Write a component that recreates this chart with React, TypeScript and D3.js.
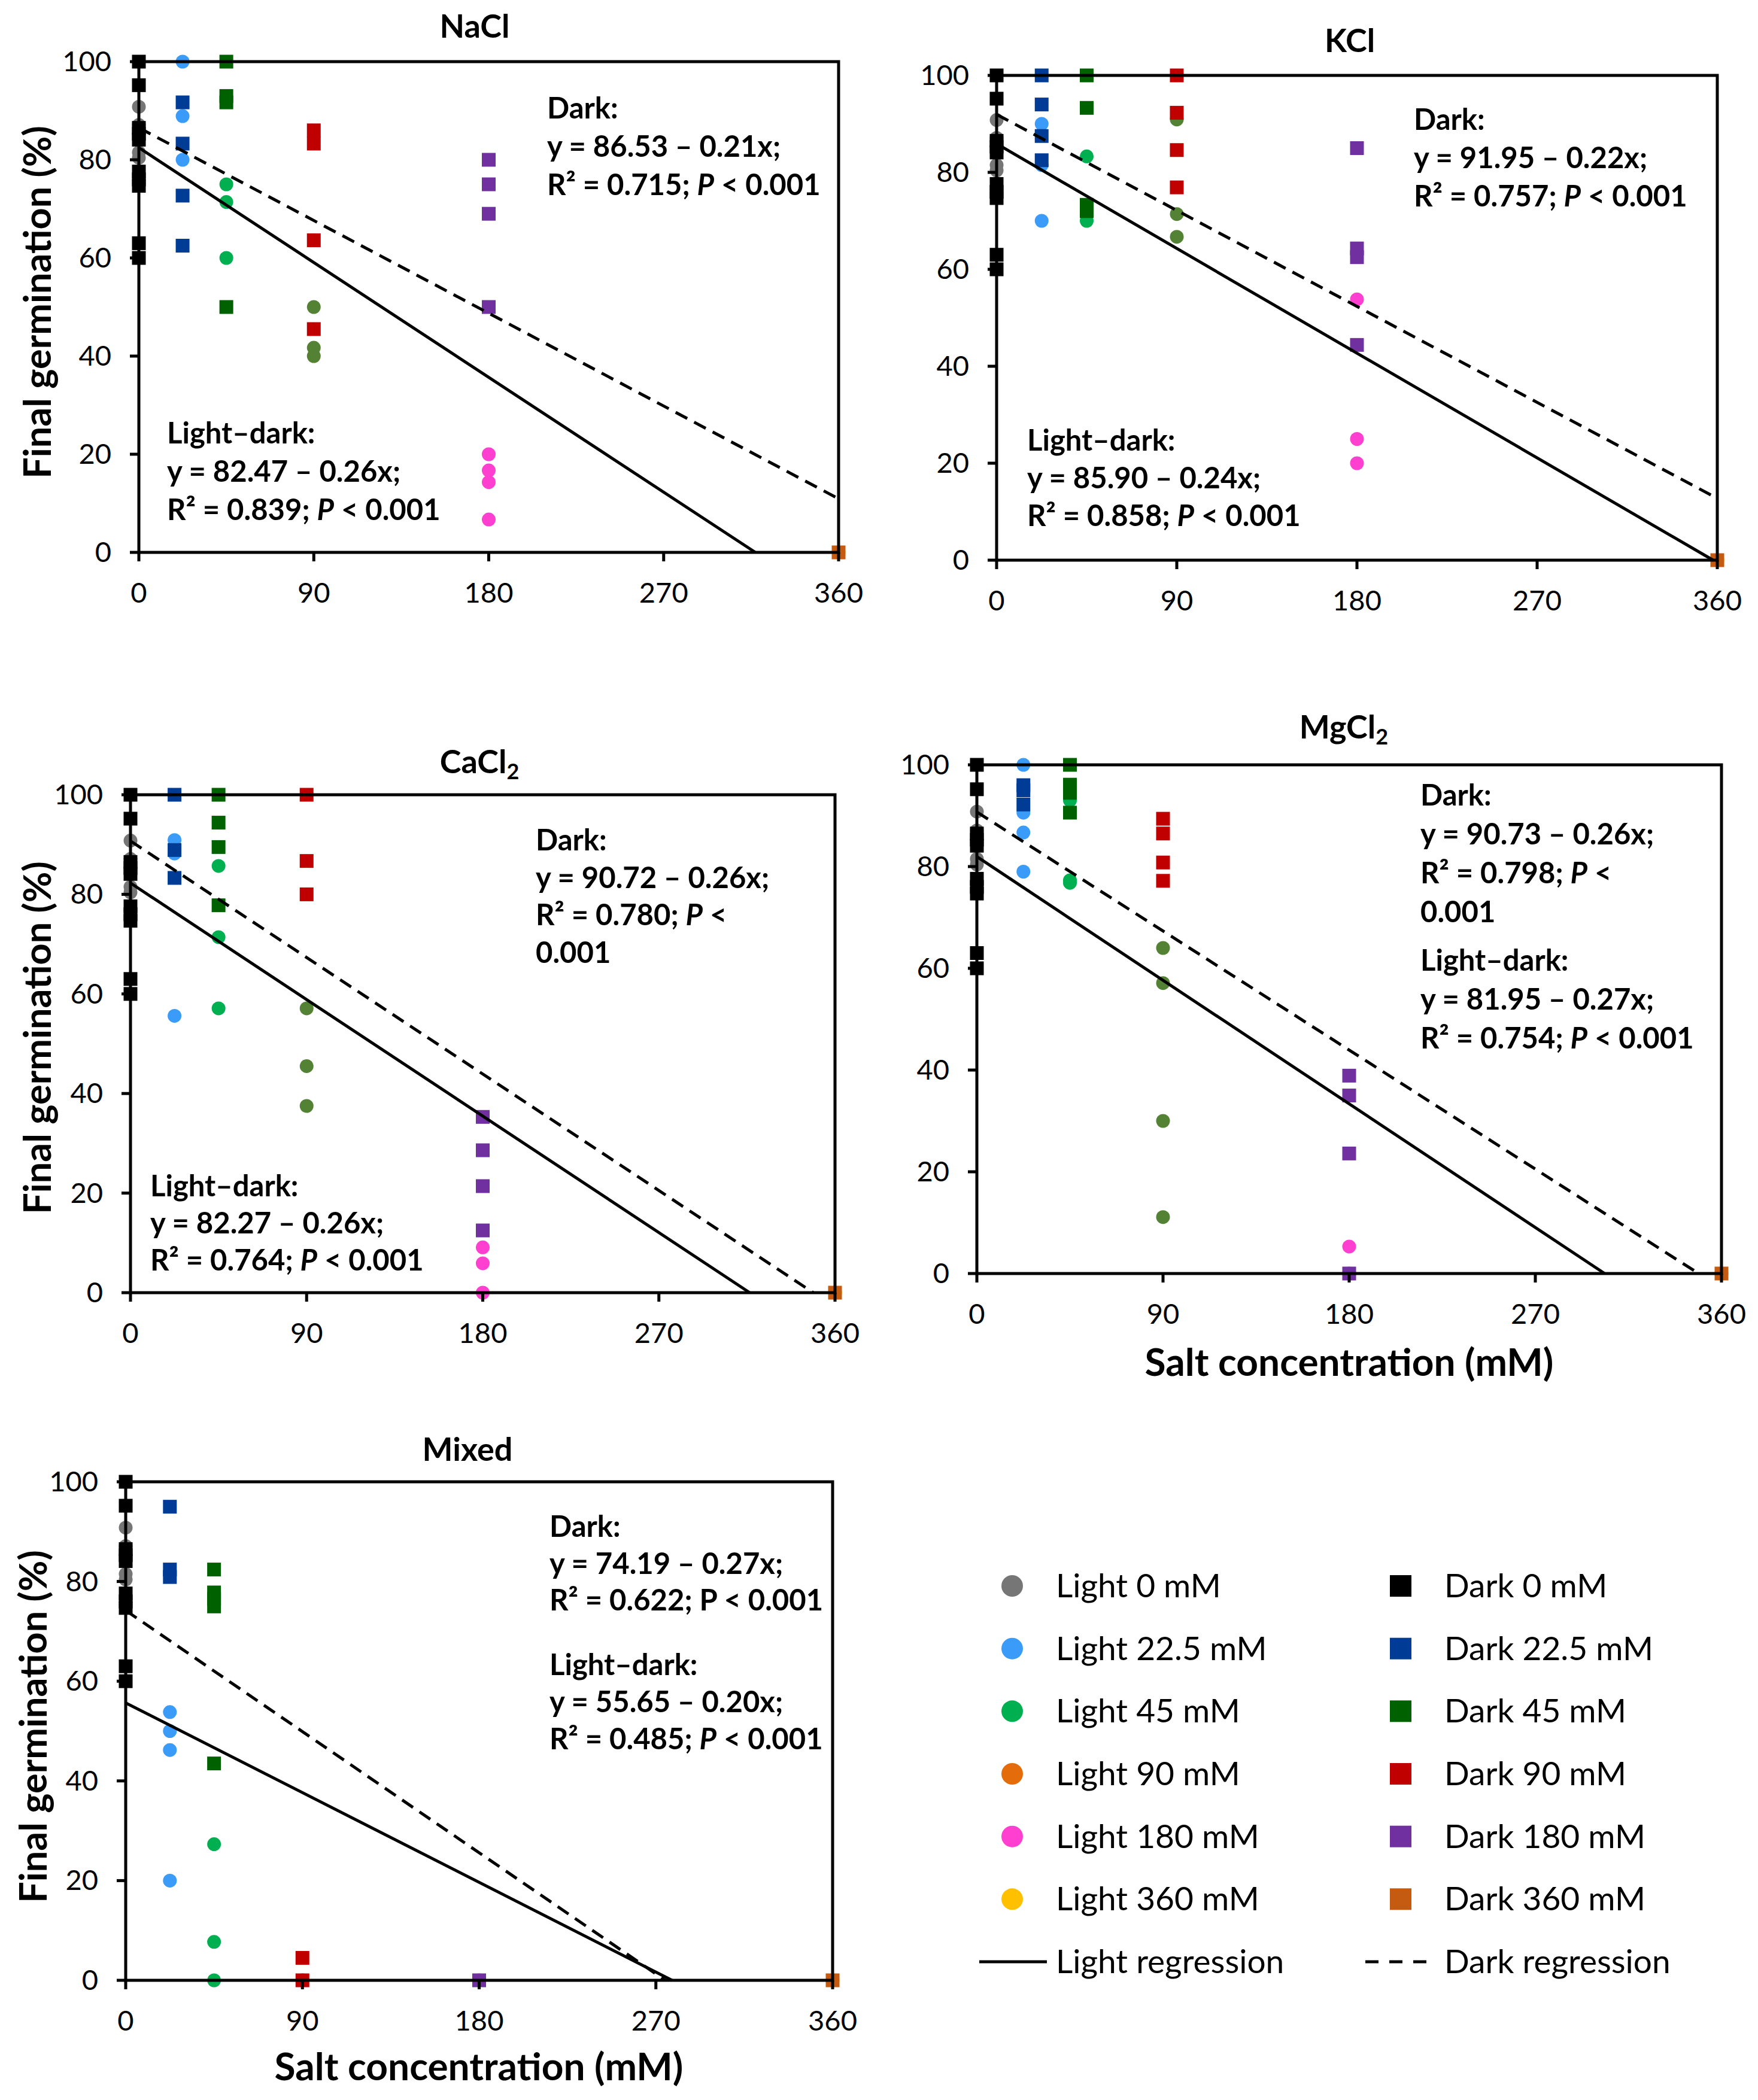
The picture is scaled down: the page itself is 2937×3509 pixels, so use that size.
import React from "react";
import * as d3 from "d3";

// ---------- data ----------
const CONCENTRATIONS = [0, 22.5, 45, 90, 180, 360];
const X_TICKS = [0, 90, 180, 270, 360];
const Y_TICKS = [0, 20, 40, 60, 80, 100];

const LEGEND_LIGHT_LABELS = ["Light 0 mM", "Light 22.5 mM", "Light 45 mM", "Light 90 mM", "Light 180 mM", "Light 360 mM"];
const LEGEND_DARK_LABELS = ["Dark 0 mM", "Dark 22.5 mM", "Dark 45 mM", "Dark 90 mM", "Dark 180 mM", "Dark 360 mM"];
const LEGEND_LINE_LABELS = ["Light regression", "Dark regression"];

const LIGHT_COLORS = ["#767676", "#3A9BF8", "#00B050", "#E46C0A", "#FF3FD0", "#FFC000"];
// 90 mM light points are drawn in olive in the panels
const LIGHT_POINT_COLORS = ["#767676", "#3A9BF8", "#00B050", "#548235", "#FF3FD0", "#FFC000"];
const DARK_COLORS = ["#000000", "#003C96", "#006100", "#C00000", "#7030A0", "#C55A11"];

// control (0 mM) – shared by all panels
const LIGHT_0 = [90.8, 87.1, 81.5, 80.4];
const DARK_0 = [100, 95.2, 86.5, 85.3, 84.1, 77.6, 76, 74.7, 63, 60];

// NaCl
const NACL_LIGHT = [LIGHT_0, [100, 88.9, 80], [75, 71.4, 60], [50, 41.7, 40], [20, 16.7, 14.3, 6.7], [0]];
const NACL_DARK = [DARK_0, [91.7, 83.3, 72.7, 62.5], [100, 93, 91.7, 50], [86, 83.3, 63.6, 45.5], [80, 75, 69, 50], [0]];
const NACL_LIGHT_FIT = [82.47, -0.26];
const NACL_DARK_FIT = [86.53, -0.21];
const NACL_DARK_TEXT = ["Dark:", "y = 86.53 – 0.21x;", "R² = 0.715; *P* < 0.001"];
const NACL_LIGHT_TEXT = ["Light–dark:", "y = 82.47 – 0.26x;", "R² = 0.839; *P* < 0.001"];

// KCl
const KCL_LIGHT = [LIGHT_0, [90, 81.5, 70], [83.3, 70], [90.9, 71.4, 66.7], [53.8, 25, 20], [0]];
const KCL_DARK = [DARK_0, [100, 94, 87.5, 82.5], [100, 93.3, 73.3, 72], [100, 92.3, 84.6, 76.9], [85, 64.3, 62.5, 44.4], [0]];
const KCL_LIGHT_FIT = [85.9, -0.24];
const KCL_DARK_FIT = [91.95, -0.22];
const KCL_DARK_TEXT = ["Dark:", "y = 91.95 – 0.22x;", "R² = 0.757; *P* < 0.001"];
const KCL_LIGHT_TEXT = ["Light–dark:", "y = 85.90 – 0.24x;", "R² = 0.858; *P* < 0.001"];

// CaCl2
const CACL2_LIGHT = [LIGHT_0, [90.9, 88.2, 55.6], [85.7, 71.4, 57.1], [57.1, 45.5, 37.5], [9.1, 5.9, 0], [0]];
const CACL2_DARK = [DARK_0, [100, 88.9, 83.3], [100, 94.4, 89.5, 77.8], [100, 86.7, 80], [35.3, 28.6, 21.4, 12.5], [0]];
const CACL2_LIGHT_FIT = [82.27, -0.26];
const CACL2_DARK_FIT = [90.72, -0.26];
const CACL2_DARK_TEXT = ["Dark:", "y = 90.72 – 0.26x;", "R² = 0.780; *P* <", "0.001"];
const CACL2_LIGHT_TEXT = ["Light–dark:", "y = 82.27 – 0.26x;", "R² = 0.764; *P* < 0.001"];

// MgCl2
const MGCL2_LIGHT = [LIGHT_0, [100, 90.6, 86.7, 79], [93, 77.3, 76.8], [64, 57.1, 30, 11.1], [5.3, 0], [0]];
const MGCL2_DARK = [DARK_0, [96, 95, 92.2], [100, 96.1, 94.5, 90.6], [89.4, 86.5, 80.8, 77.2], [38.9, 35, 23.6, 0], [0]];
const MGCL2_LIGHT_FIT = [81.95, -0.27];
const MGCL2_DARK_FIT = [90.73, -0.26];
const MGCL2_DARK_TEXT = ["Dark:", "y = 90.73 – 0.26x;", "R² = 0.798; *P* <", "0.001"];
const MGCL2_LIGHT_TEXT = ["Light–dark:", "y = 81.95 – 0.27x;", "R² = 0.754; *P* < 0.001"];

// Mixed
const MIXED_LIGHT = [LIGHT_0, [53.8, 50, 46.2, 20], [27.3, 7.7, 0], [0], [0], [0]];
const MIXED_DARK = [DARK_0, [95, 82.4, 80.9], [82.4, 77.8, 76.5, 75, 43.5], [4.5, 0], [0], [0]];
const MIXED_LIGHT_FIT = [55.65, -0.2];
const MIXED_DARK_FIT = [74.19, -0.27];
const MIXED_DARK_TEXT = ["Dark:", "y = 74.19 – 0.27x;", "R² = 0.622; P < 0.001"];
const MIXED_LIGHT_TEXT = ["Light–dark:", "y = 55.65 – 0.20x;", "R² = 0.485; *P* < 0.001"];

const PANEL_TITLES = [["NaCl", ""], ["KCl", ""], ["CaCl", "2"], ["MgCl", "2"], ["Mixed", ""]];
const Y_TITLE = "Final germination (%)";
const X_TITLE = "Salt concentration (mM)";

const PANELS = [
  { light: NACL_LIGHT, dark: NACL_DARK, lightFit: NACL_LIGHT_FIT, darkFit: NACL_DARK_FIT, darkText: NACL_DARK_TEXT, lightText: NACL_LIGHT_TEXT },
  { light: KCL_LIGHT, dark: KCL_DARK, lightFit: KCL_LIGHT_FIT, darkFit: KCL_DARK_FIT, darkText: KCL_DARK_TEXT, lightText: KCL_LIGHT_TEXT },
  { light: CACL2_LIGHT, dark: CACL2_DARK, lightFit: CACL2_LIGHT_FIT, darkFit: CACL2_DARK_FIT, darkText: CACL2_DARK_TEXT, lightText: CACL2_LIGHT_TEXT },
  { light: MGCL2_LIGHT, dark: MGCL2_DARK, lightFit: MGCL2_LIGHT_FIT, darkFit: MGCL2_DARK_FIT, darkText: MGCL2_DARK_TEXT, lightText: MGCL2_LIGHT_TEXT },
  { light: MIXED_LIGHT, dark: MIXED_DARK, lightFit: MIXED_LIGHT_FIT, darkFit: MIXED_DARK_FIT, darkText: MIXED_DARK_TEXT, lightText: MIXED_LIGHT_TEXT },
];

// ---------- layout ----------
const W = 2937;
const H = 3509;
const FONT = "Lato, 'Open Sans', sans-serif";

const LAYOUT = [
  { x0: 232, x1: 1401, y0: 923, y1: 103, title: [793, 63], yTitle: [85, 505], xTitle: null, dark: [914, 198, 64], light: [279, 741, 64] },
  { x0: 1665, x1: 2869, y0: 936, y1: 126, title: [2255, 87], yTitle: null, xTitle: null, dark: [2362, 217, 64], light: [1716, 753, 63] },
  { x0: 218, x1: 1395, y0: 2160, y1: 1328, title: [801, 1292], yTitle: [85, 1734], xTitle: null, dark: [895, 1421, 62.5], light: [251, 1999, 62] },
  { x0: 1632, x1: 2876, y0: 2128, y1: 1278, title: [2245, 1234], yTitle: null, xTitle: [2254, 2299], dark: [2373, 1346, 65], light: [2373, 1622, 65] },
  { x0: 210, x1: 1391, y0: 3309, y1: 2476, title: [781, 2441], yTitle: [78, 2885], xTitle: [800, 3476], dark: [918, 2568, 61.5], light: [918, 2799, 62] },
];

const MARK = 23; // marker size in panels
const STROKE = 5;

function Rich({ line }: { line: string }) {
  const parts = line.split(/(\*P\*)/);
  return (
    <>
      {parts.map((p, i) =>
        p === "*P*" ? (
          <tspan key={i} fontStyle="italic">P</tspan>
        ) : (
          <tspan key={i}>{p}</tspan>
        )
      )}
    </>
  );
}

function Panel({ idx }: { idx: number }) {
  const L = LAYOUT[idx];
  const P = PANELS[idx];
  const x = d3.scaleLinear().domain([0, 360]).range([L.x0, L.x1]);
  const y = d3.scaleLinear().domain([0, 100]).range([L.y0, L.y1]);

  const fitLine = (fit: number[]) => {
    const [a, b] = fit;
    const xEnd = Math.min(360, -a / b);
    const pts: [number, number][] = [
      [0, a],
      [xEnd, a + b * xEnd],
    ];
    return d3.line<[number, number]>().x((d) => x(d[0])).y((d) => y(d[1]))(pts) || "";
  };

  const [t0, t1] = PANEL_TITLES[idx];

  return (
    <g>
      {/* points: light series first */}
      {P.light.map((vals, gi) =>
        vals.map((v, k) => (
          <circle key={`l${gi}-${k}`} cx={x(CONCENTRATIONS[gi])} cy={y(v)} r={MARK / 2} fill={LIGHT_POINT_COLORS[gi]} />
        ))
      )}
      {P.dark.map((vals, gi) =>
        vals.map((v, k) => (
          <rect
            key={`d${gi}-${k}`}
            x={x(CONCENTRATIONS[gi]) - MARK / 2}
            y={y(v) - MARK / 2}
            width={MARK}
            height={MARK}
            fill={DARK_COLORS[gi]}
          />
        ))
      )}
      {/* frame */}
      <rect x={L.x0} y={L.y1} width={L.x1 - L.x0} height={L.y0 - L.y1} fill="none" stroke="#000" strokeWidth={STROKE} />
      {/* ticks */}
      {Y_TICKS.map((t) => (
        <g key={`yt${t}`}>
          <line x1={L.x0 - 15} x2={L.x0} y1={y(t)} y2={y(t)} stroke="#000" strokeWidth={STROKE} />
          <text x={L.x0 - 46} y={y(t) + 16} textAnchor="end" fontFamily={FONT} fontSize={47} fill="#000">
            {t}
          </text>
        </g>
      ))}
      {X_TICKS.map((t) => (
        <g key={`xt${t}`}>
          <line x1={x(t)} x2={x(t)} y1={L.y0} y2={L.y0 + 15} stroke="#000" strokeWidth={STROKE} />
          <text x={x(t)} y={L.y0 + 84} textAnchor="middle" fontFamily={FONT} fontSize={47} fill="#000">
            {t}
          </text>
        </g>
      ))}
      {/* regression lines */}
      <path d={fitLine(P.lightFit)} fill="none" stroke="#000" strokeWidth={STROKE} />
      <path d={fitLine(P.darkFit)} fill="none" stroke="#000" strokeWidth={STROKE} strokeDasharray="22,13" />
      {/* title */}
      <text x={L.title[0]} y={L.title[1]} textAnchor="middle" fontFamily={FONT} fontWeight={700} fontSize={54} fill="#000">
        {t0}
        {t1 && (
          <tspan dy={10} fontSize={36}>
            {t1}
          </tspan>
        )}
      </text>
      {/* annotations */}
      {P.darkText.map((line, i) => (
        <text
          key={`dt${i}`}
          x={L.dark[0]}
          y={L.dark[1] + i * L.dark[2]}
          fontFamily={FONT}
          fontWeight={700}
          fontSize={49}
          fill="#000"
          style={{ whiteSpace: "pre" }}
        >
          <Rich line={line} />
        </text>
      ))}
      {P.lightText.map((line, i) => (
        <text
          key={`lt${i}`}
          x={L.light[0]}
          y={L.light[1] + i * L.light[2]}
          fontFamily={FONT}
          fontWeight={700}
          fontSize={49}
          fill="#000"
          style={{ whiteSpace: "pre" }}
        >
          <Rich line={line} />
        </text>
      ))}
      {/* axis titles */}
      {L.yTitle && (
        <text
          transform={`translate(${L.yTitle[0]},${L.yTitle[1]}) rotate(-90)`}
          textAnchor="middle"
          fontFamily={FONT}
          fontWeight={700}
          fontSize={63}
          fill="#000"
        >
          {Y_TITLE}
        </text>
      )}
      {L.xTitle && (
        <text x={L.xTitle[0]} y={L.xTitle[1]} textAnchor="middle" fontFamily={FONT} fontWeight={700} fontSize={64} fill="#000">
          {X_TITLE}
        </text>
      )}
    </g>
  );
}

function Legend() {
  const rowY = d3.scaleLinear().domain([0, 6]).range([2650, 3278]);
  const cx = 1691;
  const sx = 2340;
  const lx = 1764;
  const rx = 2413;
  const fs = 55;
  return (
    <g fontFamily={FONT} fontSize={fs} fill="#000">
      {LEGEND_LIGHT_LABELS.map((lab, i) => (
        <g key={`ll${i}`}>
          <ellipse cx={cx} cy={rowY(i)} rx={18} ry={18} fill={LIGHT_COLORS[i]} />
          <text x={lx} y={rowY(i) + 19}>{lab}</text>
        </g>
      ))}
      {LEGEND_DARK_LABELS.map((lab, i) => (
        <g key={`dl${i}`}>
          <rect x={sx - 18} y={rowY(i) - 18} width={36} height={36} fill={DARK_COLORS[i]} />
          <text x={rx} y={rowY(i) + 19}>{lab}</text>
        </g>
      ))}
      <line x1={1636} x2={1749} y1={rowY(6)} y2={rowY(6)} stroke="#000" strokeWidth={5} />
      <text x={lx} y={rowY(6) + 19}>{LEGEND_LINE_LABELS[0]}</text>
      <line x1={2281} x2={2384} y1={rowY(6)} y2={rowY(6)} stroke="#000" strokeWidth={5} strokeDasharray="22,18" />
      <text x={rx} y={rowY(6) + 19}>{LEGEND_LINE_LABELS[1]}</text>
    </g>
  );
}

export default function App() {
  return (
    <svg
      width={W}
      height={H}
      viewBox={`0 0 ${W} ${H}`}
      style={{ position: "absolute", left: 0, top: 0, background: "#fff", display: "block" }}
    >
      <rect x={0} y={0} width={W} height={H} fill="#fff" />
      {LAYOUT.map((_, i) => (
        <Panel key={i} idx={i} />
      ))}
      <Legend />
    </svg>
  );
}
